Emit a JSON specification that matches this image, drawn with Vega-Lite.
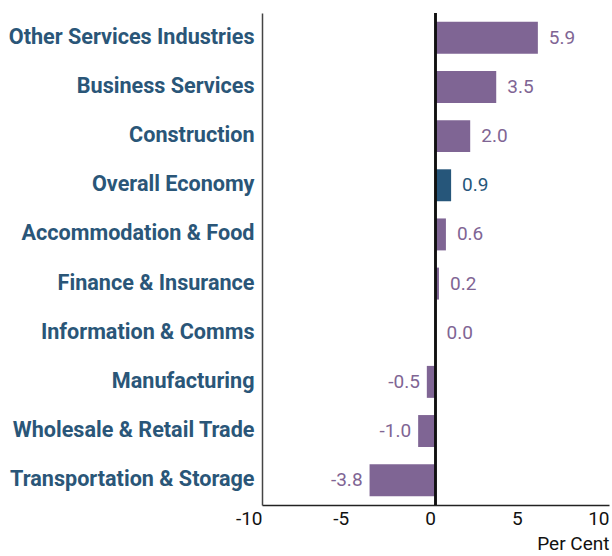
{
  "$schema": "https://vega.github.io/schema/vega-lite/v6.json",
  "autosize": {"type": "none"},
  "width": 347,
  "height": 492,
  "padding": {"left": 262, "top": 13, "right": 3, "bottom": 51},
  "config": {"view": {"stroke": null}, "font": "Roboto"},
  "data": {"values": [
    {"industry": "Other Services Industries", "value": 5.9},
    {"industry": "Business Services", "value": 3.5},
    {"industry": "Construction", "value": 2.0},
    {"industry": "Overall Economy", "value": 0.9},
    {"industry": "Accommodation & Food\u00a0", "value": 0.6},
    {"industry": "Finance & Insurance", "value": 0.2},
    {"industry": "Information & Comms", "value": 0.0},
    {"industry": "Manufacturing", "value": -0.5},
    {"industry": "Wholesale & Retail Trade", "value": -1.0},
    {"industry": "Transportation & Storage", "value": -3.8}
  ]},
  "transform": [{"calculate": "replace(format(datum.value, '.1f'), '\u2212', '-')", "as": "label"}],
  "encoding": {
    "y": {"field": "industry", "type": "nominal", "sort": null,
      "scale": {"paddingInner": 0.35, "paddingOuter": 0.18},
      "axis": {"title": null, "ticks": false, "domainColor": "#444444", "domainWidth": 1.5,
        "labelFont": "Roboto", "labelFontWeight": "bold", "labelFontSize": 21.6, "labelColor": "#2a5678",
        "labelPadding": 8, "labelLimit": 300}},
    "x": {"field": "value", "type": "quantitative",
      "scale": {"domain": [-10, 10], "nice": false},
      "axis": {"values": [-10, -5, 0, 5, 10], "grid": false, "ticks": false, "domainColor": "#222222", "domainWidth": 1.5,
        "labelExpr": "replace(datum.label, '\u2212', '-')",
        "labelAlign": "right", "labelFontSize": 19, "labelColor": "#111111", "labelPadding": 4, "labelFlush": false,
        "title": "Per Cent", "titleAnchor": "end", "titleAlign": "right", "titleFontWeight": "normal", "titleFontSize": 19, "titleColor": "#111111", "titlePadding": 6}}
  },
  "layer": [
    {"mark": {"type": "bar"},
     "encoding": {"color": {"condition": {"test": "datum.industry == 'Overall Economy'", "value": "#26567a"}, "value": "#7f6594"}}},
    {"mark": {"type": "rule", "color": "#111111", "strokeWidth": 1.5},
     "encoding": {"x": {"datum": 0}, "y": null}},
    {"transform": [{"filter": "datum.value >= 0"}],
     "mark": {"type": "text", "align": "left", "dx": 11, "fontSize": 19},
     "encoding": {"text": {"field": "label"},
       "color": {"condition": {"test": "datum.industry == 'Overall Economy'", "value": "#26567a"}, "value": "#7f6594"}}},
    {"transform": [{"filter": "datum.value < 0"}],
     "mark": {"type": "text", "align": "right", "dx": -7, "fontSize": 19},
     "encoding": {"text": {"field": "label"}, "color": {"value": "#7f6594"}}}
  ]
}
